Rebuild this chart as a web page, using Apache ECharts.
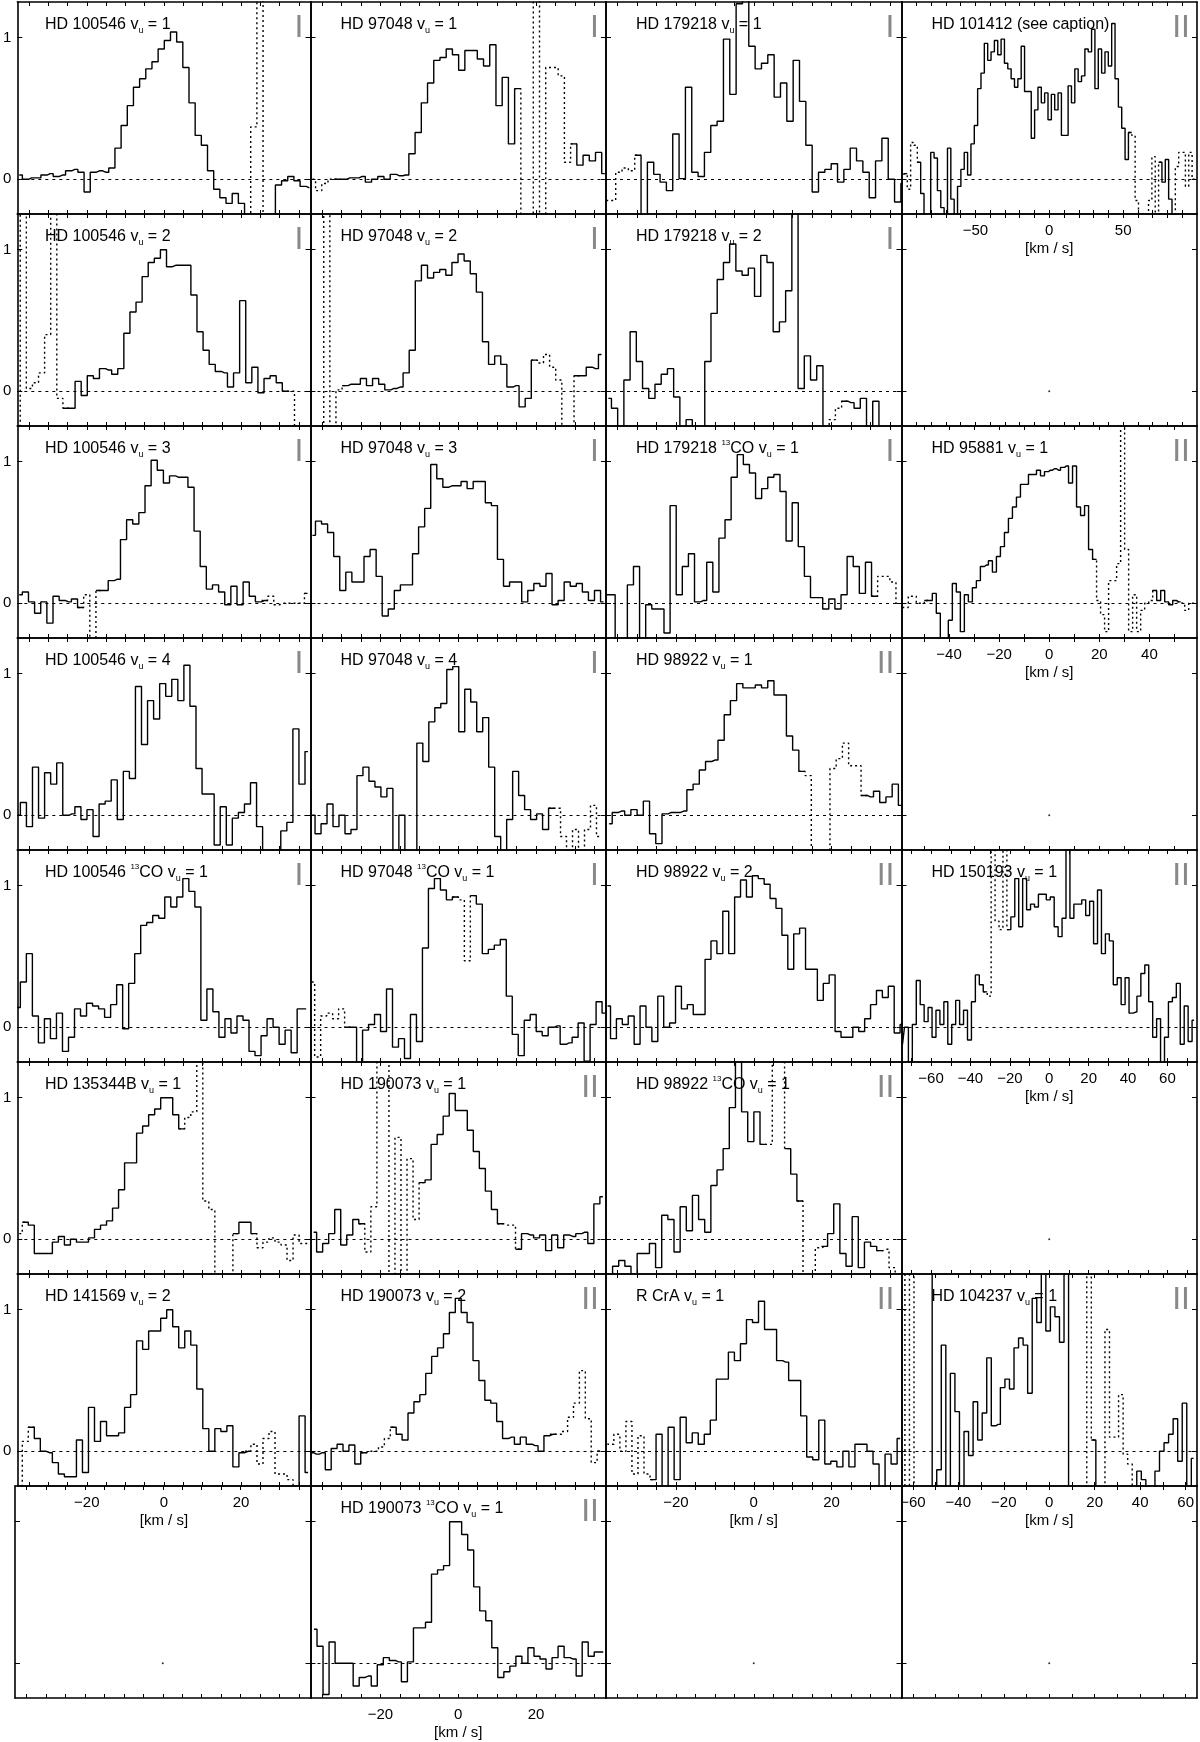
<!DOCTYPE html>
<html>
<head>
<meta charset="utf-8">
<script src="https://cdn.jsdelivr.net/npm/echarts@6/dist/echarts.min.js"></script>
<style>
html, body { margin: 0; padding: 0; background: #fff; }
#chart { width: 1200px; height: 1742px; }
</style>
</head>
<body>
<div id="chart"></div>
<script>
// normalised line profiles, one value per velocity bin
const hd100546_v1 = [0.03,0.0,0.01,0.01,0.03,0.04,0.02,0.03,0.06,0.07,0.05,-0.09,0.05,0.06,0.05,0.08,0.22,0.38,0.52,0.65,0.71,0.78,0.83,0.92,0.98,1.04,0.97,0.79,0.54,0.31,0.24,0.06,-0.07,-0.13,-0.17,-0.10,-0.17,-0.3,0.37,1.3,-0.3,-0.3,-0.04,-0.01,0.02,-0.01,-0.05,-0.06];
const hd97048_v1 = [0.0,-0.08,-0.03,0.0,0.0,0.0,0.01,0.01,0.02,-0.02,0.0,0.02,0.0,0.035,0.025,0.03,0.18,0.33,0.54,0.68,0.84,0.86,0.92,0.88,0.77,0.91,0.91,0.85,0.80,0.95,0.52,0.72,0.25,0.64,-0.3,-0.3,1.3,-0.3,0.79,0.79,0.73,0.12,0.25,0.10,0.17,0.13,0.19,0.04];
const hd179218_v1 = [-0.15,-0.15,0.05,0.08,0.06,0.17,-0.3,0.12,0.035,-0.02,-0.08,0.32,0.005,0.65,0.05,0.02,0.19,0.38,0.41,0.99,0.60,1.24,1.3,0.94,0.78,0.82,0.88,0.58,0.68,0.41,0.84,0.55,0.24,-0.09,0.05,0.07,0.11,-0.02,0.07,0.22,0.13,0.05,-0.13,0.13,0.29,0.0,-0.16,-0.03];
const hd101412 = [0.035,0.04,-0.07,0.26,0.24,0.12,-0.1,-0.3,-0.3,0.19,0.15,-0.08,-0.2,-0.3,0.22,-0.14,-0.3,-0.05,0.07,0.19,0.03,0.25,0.38,0.64,0.75,0.96,0.84,0.90,0.98,0.88,0.99,0.82,0.78,0.71,0.65,0.71,0.94,0.62,0.62,0.29,0.49,0.65,0.54,0.61,0.42,0.60,0.49,0.61,0.31,0.31,0.66,0.54,0.78,0.69,0.73,0.92,0.90,1.06,0.64,0.92,0.75,0.90,0.80,1.10,0.71,0.51,0.36,0.14,0.33,0.31,-0.15,-0.3,-0.3,-0.3,-0.15,0.16,-0.3,0.12,-0.02,0.14,-0.14,-0.3,0.09,0.19,0.19,-0.05,0.19,0.0,0.0];
const hd100546_v2 = [-0.3,1.3,0.02,0.06,0.13,0.40,1.3,-0.05,-0.12,-0.12,0.07,-0.03,0.11,0.09,0.16,0.15,0.12,0.16,0.41,0.56,0.63,0.81,0.91,0.94,1.00,0.88,0.89,0.89,0.89,0.68,0.42,0.29,0.19,0.14,0.13,0.03,0.13,0.64,0.06,0.17,-0.01,0.09,0.11,0.06,0.0,0.0,-0.3,-0.3,-0.3];
const hd97048_v2 = [-0.3,-0.3,1.3,-0.3,0.01,0.04,0.05,0.05,0.09,0.04,0.09,0.05,0.01,0.02,0.03,0.13,0.29,0.78,0.89,0.80,0.84,0.86,0.82,0.91,0.97,0.92,0.83,0.70,0.35,0.19,0.25,0.19,0.03,0.04,-0.11,-0.05,0.22,0.20,0.26,0.17,0.08,-0.3,-0.3,0.11,0.11,0.17,0.16,0.26];
const hd179218_v2 = [-0.05,-0.12,-0.3,0.08,0.42,0.21,0.02,-0.05,0.05,0.12,0.16,-0.04,-0.3,-0.2,-0.3,-0.3,0.21,0.55,0.79,0.91,1.04,0.85,0.82,0.87,0.67,0.96,0.91,0.42,0.49,0.71,1.3,0.02,0.25,0.08,0.18,-0.3,-0.2,-0.12,-0.07,-0.08,-0.12,-0.05,-0.3,-0.07,-0.3,-0.3,-0.3,-0.3];
const hd100546_v3 = [0.06,0.08,0.01,-0.07,0.01,-0.14,0.05,0.02,0.01,0.03,-0.03,0.06,-0.3,0.09,0.09,0.16,0.17,0.45,0.59,0.56,0.64,0.83,1.01,0.94,0.85,0.90,0.89,0.89,0.82,0.51,0.26,0.10,0.13,0.08,-0.01,0.12,-0.01,0.15,0.05,0.01,0.02,0.05,-0.01,0.0,0.0,0.0,0.0,0.07];
const hd97048_v3 = [0.48,0.58,0.56,0.50,0.33,0.09,0.22,0.15,0.15,0.33,0.38,0.19,-0.09,-0.04,0.09,0.13,0.13,0.35,0.54,0.67,0.98,0.88,0.82,0.83,0.83,0.86,0.81,0.86,0.86,0.71,0.69,0.31,0.12,0.15,0.15,0.01,0.09,0.14,0.12,0.21,-0.01,0.02,0.15,0.12,0.14,0.08,0.02,0.09,0.01];
const hd179218_13co = [0.06,0.06,-0.3,-0.3,0.13,0.26,-0.3,-0.01,-0.04,-0.04,-0.21,0.69,0.06,0.26,0.35,0.01,0.02,0.29,0.08,0.46,0.59,0.89,1.05,0.98,0.92,0.74,0.81,0.89,0.91,0.79,0.44,0.71,0.40,0.19,0.04,0.04,-0.04,0.03,-0.04,0.06,0.33,0.26,0.07,0.29,0.05,0.19,0.19,0.15,0.0];
const hd95881 = [-0.03,-0.03,0.05,0.05,0.0,0.0,0.02,0.02,0.07,-0.07,-0.3,-0.3,-0.12,0.14,0.08,-0.2,0.06,0.01,0.11,0.16,0.26,0.27,0.30,0.22,0.33,0.40,0.50,0.60,0.68,0.75,0.84,0.84,0.91,0.91,0.94,0.90,0.93,0.94,0.95,0.94,0.96,0.97,0.85,0.97,0.68,0.62,0.69,0.38,0.31,0.02,-0.08,-0.2,0.16,0.16,0.28,1.3,0.38,-0.2,0.06,-0.2,-0.05,0.0,0.02,0.09,0.02,0.09,0.01,-0.01,0.02,0.01,0.0,-0.05,0.0,0.0];
const hd100546_v4 = [0.0,0.09,-0.08,0.34,-0.02,0.30,0.22,0.37,0.0,0.01,0.06,-0.03,0.04,-0.15,0.08,0.10,0.25,-0.03,0.31,0.26,0.91,0.50,0.81,0.68,0.93,0.84,0.96,0.81,1.06,0.77,0.33,0.15,0.15,-0.21,0.06,-0.21,-0.02,0.02,0.08,0.23,-0.08,-0.3,-0.3,-0.3,-0.11,-0.05,0.61,0.22,0.45];
const hd97048_v4 = [0.0,-0.13,-0.06,0.08,-0.08,0.0,-0.13,-0.10,0.28,0.34,0.24,0.20,0.13,0.19,-0.3,0.0,-0.3,-0.3,0.51,0.38,0.66,0.76,0.79,1.03,1.05,0.59,0.89,0.80,0.59,0.69,0.34,-0.15,-0.3,-0.03,0.31,0.14,0.04,-0.03,0.01,-0.10,0.05,0.05,-0.15,-0.25,-0.1,-0.25,-0.1,0.07,-0.15];
const hd98922_v1 = [-0.06,0.02,0.03,0.0,0.04,0.0,0.10,-0.13,-0.20,0.01,0.02,0.02,0.03,0.18,0.22,0.32,0.38,0.39,0.53,0.71,0.81,0.93,0.90,0.90,0.92,0.90,0.95,0.85,0.85,0.56,0.46,0.31,0.28,-0.3,-0.3,-0.3,0.33,0.40,0.51,0.35,0.35,0.14,0.13,0.17,0.09,0.13,0.22,0.07];
const hd100546_13co = [0.14,0.32,0.52,0.08,-0.11,0.06,-0.08,0.10,-0.17,-0.07,0.13,0.08,0.17,0.15,0.13,0.07,0.16,0.30,-0.01,0.31,0.52,0.72,0.74,0.79,0.77,0.92,0.85,0.92,1.05,0.96,0.85,0.05,0.27,0.11,-0.07,0.06,-0.04,0.08,0.05,-0.17,-0.20,-0.06,0.06,0.0,-0.12,-0.02,-0.18,0.13,0.13];
const hd97048_13co = [0.32,-0.21,0.08,0.10,0.06,0.13,0.0,0.0,-0.3,-0.02,0.02,0.09,-0.03,0.27,-0.14,-0.08,-0.22,0.09,-0.10,0.56,0.98,1.05,0.97,0.90,0.92,0.90,0.47,0.93,0.87,0.52,0.55,0.58,0.62,0.22,-0.05,-0.20,0.05,0.09,-0.03,-0.06,0.0,0.01,-0.12,-0.11,-0.07,0.03,-0.24,0.02,0.18,0.10];
const hd98922_v2 = [0.15,-0.08,0.06,0.02,0.08,-0.12,0.15,0.0,-0.10,0.22,0.0,0.03,0.29,0.13,0.16,0.09,0.09,0.48,0.61,0.52,0.82,0.52,0.92,1.04,0.92,1.07,1.05,1.01,0.91,0.84,0.65,0.41,0.66,0.70,0.41,0.41,0.19,0.31,0.37,-0.03,-0.07,-0.07,0.0,-0.03,0.06,0.16,0.26,0.21,0.29,-0.04,0.02,0.02];
const hd150193 = [-0.12,0.0,-0.3,0.02,0.33,0.16,0.04,0.14,-0.07,0.12,0.02,0.18,-0.12,0.02,0.19,0.02,0.12,-0.09,0.18,0.37,0.30,0.25,0.22,1.3,0.75,0.69,1.3,0.69,0.78,1.05,0.71,1.05,0.83,0.87,0.85,0.94,0.94,0.90,0.92,0.71,0.64,0.77,1.3,0.77,0.87,0.87,0.90,0.79,0.89,0.59,0.97,0.52,0.66,0.61,0.30,0.35,0.16,0.35,0.10,0.11,0.22,0.38,0.44,0.18,-0.07,0.06,-0.3,-0.07,0.18,0.21,0.31,-0.12,0.15,-0.10,0.05];
const hd135344b_v1 = [0.04,0.12,0.10,-0.10,-0.10,-0.10,-0.02,0.02,-0.04,0.0,-0.02,-0.02,0.01,0.07,0.10,0.13,0.22,0.35,0.54,0.54,0.75,0.80,0.88,0.92,1.0,1.0,0.88,0.78,0.86,0.9,1.3,0.27,0.21,-0.3,-0.3,-0.3,0.04,0.12,0.12,0.04,-0.06,-0.02,0.01,-0.02,-0.04,-0.15,0.03,-0.03,-0.03];
const hd190073_v1 = [0.05,-0.09,-0.03,0.04,0.21,-0.04,0.03,0.14,0.11,-0.09,0.23,1.3,1.3,-0.3,0.72,-0.3,0.57,0.14,0.40,0.42,0.67,0.74,0.87,1.03,0.91,0.91,0.77,0.62,0.50,0.34,0.21,0.11,0.10,0.10,-0.07,0.04,0.03,0.01,0.03,-0.08,0.03,-0.06,0.03,0.02,0.04,0.05,-0.03,0.25,0.3];
const hd98922_13co = [-0.3,-0.19,-0.15,-0.19,-0.3,-0.10,-0.10,-0.03,-0.20,0.17,0.14,-0.09,0.23,0.06,0.31,0.14,0.05,0.38,0.49,0.64,0.93,1.3,0.90,0.69,0.90,0.67,0.67,1.3,1.3,0.64,0.46,0.27,-0.3,-0.3,-0.06,-0.05,0.04,0.25,-0.10,-0.19,0.16,-0.20,-0.02,-0.05,-0.08,-0.07,-0.2,-0.3];
const hd141569_v2 = [-0.3,0.07,0.17,0.09,0.0,-0.01,-0.08,-0.16,-0.18,-0.18,0.08,-0.15,0.31,0.07,0.21,0.11,0.11,0.13,0.31,0.40,0.78,0.72,0.85,0.85,0.94,1.0,0.88,0.73,0.85,0.75,0.44,0.16,0.0,0.16,0.14,0.18,-0.11,-0.01,0.0,0.05,-0.09,0.09,0.14,-0.16,-0.16,-0.2,-0.3,0.25,-0.15];
const hd190073_v2 = [-0.01,-0.02,-0.01,-0.13,0.02,0.05,0.0,0.045,-0.09,-0.01,0.0,0.0,0.03,0.09,0.17,0.12,0.08,0.27,0.35,0.40,0.55,0.67,0.73,0.83,0.98,1.08,0.98,0.91,0.64,0.50,0.36,0.34,0.21,0.09,0.10,0.05,0.10,0.05,0.04,0.0,0.11,0.12,0.12,0.14,0.24,0.34,0.57,0.23,-0.08,0.0];
const rcra_v1 = [0.07,0.05,0.12,0.0,0.21,-0.16,0.11,-0.16,-0.2,0.12,-0.3,0.17,-0.2,0.24,0.06,0.13,0.05,0.12,0.22,0.51,0.51,0.70,0.64,0.76,0.93,0.91,1.06,0.86,0.86,0.64,0.63,0.50,0.50,0.25,-0.04,-0.06,0.22,-0.09,-0.07,-0.11,0.0,-0.11,0.05,0.05,0.0,-0.09,-0.3,-0.02,-0.09,0.09];
const hd104237 = [-0.3,1.3,-0.3,1.3,1.3,1.3,1.3,-0.3,-0.13,0.75,-0.3,0.55,0.28,-0.3,0.14,-0.03,0.35,0.08,0.27,0.66,0.18,0.19,0.45,0.51,0.44,0.73,0.80,0.75,0.41,1.08,0.91,1.3,0.85,1.02,0.95,0.77,1.3,-0.3,-0.3,-0.3,-0.3,1.3,0.08,-0.3,-0.3,0.86,0.10,0.10,0.40,-0.02,-0.09,-0.3,-0.14,-0.2,-0.3,-0.3,-0.14,0.0,0.06,0.12,0.23,-0.07,0.34,-0.3,-0.05];
const hd190073_13co = [0.24,0.12,-0.22,0.15,0.0,0.0,0.0,-0.16,-0.10,-0.09,-0.16,-0.01,0.04,0.02,0.01,-0.13,0.01,0.25,0.25,0.29,0.63,0.66,0.69,1.0,1.0,0.91,0.80,0.54,0.37,0.30,0.11,-0.10,-0.06,-0.02,0.05,0.0,0.11,0.05,0.03,-0.04,0.04,0.12,0.04,0.03,-0.09,0.15,0.05,0.08,0.08];

// velocity axes: half range, tick positions, labelled ticks
const ticksNarrow = [-35,-30,-25,-20,-15,-10,-5,0,5,10,15,20,25,30,35];
const labelsNarrow = [-20,0,20];
const ticks100 = [-90,-80,-70,-60,-50,-40,-30,-20,-10,0,10,20,30,40,50,60,70,80,90];
const labels100 = [-50,0,50];
const ticks59 = [-50,-40,-30,-20,-10,0,10,20,30,40,50];
const labels59 = [-40,-20,0,20,40];
const ticks75 = [-70,-60,-50,-40,-30,-20,-10,0,10,20,30,40,50,60,70];
const labels75 = [-60,-40,-20,0,20,40,60];
const ticks65 = [-60,-50,-40,-30,-20,-10,0,10,20,30,40,50,60];
const labels65 = [-60,-40,-20,0,20,40,60];
const yTicks = [0, 1];

const axisSpecs = {
  narrow: { lim: 38, ticks: ticksNarrow, labels: labelsNarrow },
  w100: { lim: 100, ticks: ticks100, labels: labels100 },
  w59: { lim: 59, ticks: ticks59, labels: labels59 },
  w75: { lim: 75, ticks: ticks75, labels: labels75 },
  w65: { lim: 65, ticks: ticks65, labels: labels65 }
};

// binStart = centre of first bin [km/s], binWidth [km/s], dotted = bin index ranges
const panels = [
  { r: 0, c: 0, star: 'HD 100546', vu: 1, cls: 'I', y: hd100546_v1, binStart: -37.5, binWidth: 1.6, dotted: [[38, 40]] },
  { r: 0, c: 1, star: 'HD 97048', vu: 1, cls: 'I', y: hd97048_v1, binStart: -37.5, binWidth: 1.6, dotted: [[0, 3], [34, 41]] },
  { r: 0, c: 2, star: 'HD 179218', vu: 1, cls: 'I', y: hd179218_v1, binStart: -37.95, binWidth: 1.63, dotted: [[0, 4]] },
  { r: 0, c: 3, star: 'HD 101412', note: '(see caption)', cls: 'II', y: hd101412, binStart: -99.5, binWidth: 2.268, dotted: [[2, 4], [69, 76], [82, 88]], axis: 'w100' },
  { r: 1, c: 0, star: 'HD 100546', vu: 2, cls: 'I', y: hd100546_v2, binStart: -38.04, binWidth: 1.58, dotted: [[1, 7], [45, 48]] },
  { r: 1, c: 1, star: 'HD 97048', vu: 2, cls: 'I', y: hd97048_v2, binStart: -36.95, binWidth: 1.57, dotted: [[0, 4], [37, 42]] },
  { r: 1, c: 2, star: 'HD 179218', vu: 2, cls: 'I', y: hd179218_v2, binStart: -37.4, binWidth: 1.6, dotted: [[36, 37]] },
  { r: 2, c: 0, star: 'HD 100546', vu: 3, cls: 'I', y: hd100546_v3, binStart: -37.5, binWidth: 1.59, dotted: [[11, 12], [41, 46]] },
  { r: 2, c: 1, star: 'HD 97048', vu: 3, cls: 'I', y: hd97048_v3, binStart: -37.5, binWidth: 1.56, dotted: [] },
  { r: 2, c: 2, star: 'HD 179218', iso: true, vu: 1, cls: 'I', y: hd179218_13co, binStart: -38.0, binWidth: 1.57, dotted: [[45, 48]] },
  { r: 2, c: 3, star: 'HD 95881', vu: 1, cls: 'II', y: hd95881, binStart: -58.7, binWidth: 1.6, dotted: [[0, 5], [49, 62], [70, 73]], axis: 'w59' },
  { r: 3, c: 0, star: 'HD 100546', vu: 4, cls: 'I', y: hd100546_v4, binStart: -38.0, binWidth: 1.57, dotted: [] },
  { r: 3, c: 1, star: 'HD 97048', vu: 4, cls: 'I', y: hd97048_v4, binStart: -37.6, binWidth: 1.54, dotted: [[41, 48]] },
  { r: 3, c: 2, star: 'HD 98922', vu: 1, cls: 'II', y: hd98922_v1, binStart: -37.2, binWidth: 1.6, dotted: [[32, 40]] },
  { r: 4, c: 0, star: 'HD 100546', iso: true, vu: 1, cls: 'I', y: hd100546_13co, binStart: -38.0, binWidth: 1.56, dotted: [] },
  { r: 4, c: 1, star: 'HD 97048', iso: true, vu: 1, cls: 'I', y: hd97048_13co, binStart: -37.7, binWidth: 1.54, dotted: [[0, 5], [25, 26]] },
  { r: 4, c: 2, star: 'HD 98922', vu: 2, cls: 'II', y: hd98922_v2, binStart: -37.6, binWidth: 1.52, dotted: [] },
  { r: 4, c: 3, star: 'HD 150193', vu: 1, cls: 'II', y: hd150193, binStart: -74.5, binWidth: 2.0, dotted: [[22, 22], [24, 26]], axis: 'w75' },
  { r: 5, c: 0, star: 'HD 135344B', vu: 1, cls: '', y: hd135344b_v1, binStart: -37.5, binWidth: 1.56, dotted: [[0, 0], [28, 35], [40, 48]] },
  { r: 5, c: 1, star: 'HD 190073', vu: 1, cls: 'II', y: hd190073_v1, binStart: -37.2, binWidth: 1.55, dotted: [[9, 17], [32, 33]] },
  { r: 5, c: 2, star: 'HD 98922', iso: true, vu: 1, cls: 'II', y: hd98922_13co, binStart: -37.1, binWidth: 1.58, dotted: [[26, 28], [32, 34], [45, 47]] },
  { r: 6, c: 0, star: 'HD 141569', vu: 2, cls: '', y: hd141569_v2, binStart: -37.5, binWidth: 1.56, dotted: [[0, 1], [39, 45]] },
  { r: 6, c: 1, star: 'HD 190073', vu: 2, cls: 'II', y: hd190073_v2, binStart: -38.0, binWidth: 1.52, dotted: [[10, 13], [42, 48]] },
  { r: 6, c: 2, star: 'R CrA', vu: 1, cls: 'II', y: rcra_v1, binStart: -38.3, binWidth: 1.55, dotted: [[0, 7]] },
  { r: 6, c: 3, star: 'HD 104237', vu: 1, cls: 'II', y: hd104237, binStart: -64.5, binWidth: 2.0, dotted: [[0, 3], [41, 41], [45, 50]], axis: 'w65' },
  { r: 7, c: 1, star: 'HD 190073', iso: true, vu: 1, cls: 'II', y: hd190073_13co, binStart: -37.1, binWidth: 1.55, dotted: [] }
];

// empty cells keep the axis of the panel above
const emptyCells = [
  { r: 1, c: 3, axis: 'w100' },
  { r: 3, c: 3, axis: 'w59' },
  { r: 5, c: 3, axis: 'w75' },
  { r: 7, c: 0, axis: 'narrow' },
  { r: 7, c: 2, axis: 'narrow' },
  { r: 7, c: 3, axis: 'w65' }
];
// cells whose bottom axis carries velocity labels
const labelled = ['0,3', '2,3', '4,3', '6,0', '6,2', '6,3', '7,1'];

const FONT = '"Liberation Sans", Arial, Helvetica, sans-serif';
const COL_LEFT = [15, 310.5, 606, 901.5];
const COL_W = 295.5;
const ROW_TOP = 2, ROW_H = 212;
const Y_MIN = -0.245, Y_MAX = 1.252;

const fmtV = v => (v < 0 ? '\u2212' + Math.abs(v) : String(v));

const grids = [], xAxes = [], yAxes = [], series = [], titles = [];

const zeroLine = {
  silent: true, symbol: 'none', animation: false,
  label: { show: false },
  lineStyle: { type: [3, 4], color: '#000', width: 1 },
  data: [{ yAxis: 0 }]
};

function addCell(r, c, axisKey) {
  const gi = grids.length;
  const spec = axisSpecs[axisKey];
  const showX = labelled.indexOf(r + ',' + c) >= 0;
  grids.push({ left: COL_LEFT[c], top: ROW_TOP + r * ROW_H, width: COL_W, height: ROW_H });
  ['bottom', 'top'].forEach(pos => {
    const lab = showX && pos === 'bottom';
    xAxes.push({
      gridIndex: gi, type: 'value', position: pos, min: -spec.lim, max: spec.lim,
      axisLine: { show: true, onZero: false, lineStyle: { color: '#000', width: 1.6 } },
      axisTick: { show: true, inside: true, length: 4, customValues: spec.ticks, lineStyle: { color: '#000', width: 1 } },
      axisLabel: { show: lab, customValues: spec.labels, formatter: fmtV, fontFamily: FONT, fontSize: 15, color: '#000', margin: 9 },
      splitLine: { show: false },
      name: lab ? '[km / s]' : '', nameLocation: 'middle', nameGap: 27,
      nameTextStyle: { fontFamily: FONT, fontSize: 15, color: '#000' }
    });
  });
  ['left', 'right'].forEach(pos => {
    const lab = pos === 'left' && c === 0 && r < 7;
    yAxes.push({
      gridIndex: gi, type: 'value', position: pos, min: Y_MIN, max: Y_MAX,
      axisLine: { show: true, onZero: false, lineStyle: { color: '#000', width: 1.6 } },
      axisTick: { show: true, inside: true, length: 5, customValues: yTicks, lineStyle: { color: '#000', width: 1 } },
      axisLabel: { show: lab, customValues: yTicks, fontFamily: FONT, fontSize: 15, color: '#000', margin: 6 },
      splitLine: { show: false }
    });
  });
  return gi;
}

function titleText(p) {
  if (p.note) return '{a|' + p.star + ' ' + p.note + '}';
  const head = p.iso ? '{a|' + p.star + ' }{c|13}{a|CO v}' : '{a|' + p.star + ' v}';
  return head + '{b|u}{a| = ' + p.vu + '}';
}

panels.forEach(p => {
  const gi = addCell(p.r, p.c, p.axis || 'narrow');
  const inDot = i => p.dotted.some(([a, b]) => i >= a && i <= b);
  const solid = [], dots = [];
  p.y.forEach((val, i) => {
    const v = p.binStart + i * p.binWidth;
    solid.push([v, inDot(i) ? '-' : val]);
    dots.push([v, (inDot(i) || inDot(i - 1) || inDot(i + 1)) ? val : '-']);
  });
  series.push({
    type: 'line', xAxisIndex: 2 * gi, yAxisIndex: 2 * gi, data: solid, step: 'middle',
    symbol: 'none', silent: true, clip: true,
    lineStyle: { color: '#000', width: 1.4 }, markLine: zeroLine
  });
  if (p.dotted.length) {
    series.push({
      type: 'line', xAxisIndex: 2 * gi, yAxisIndex: 2 * gi, data: dots, step: 'middle',
      symbol: 'none', silent: true, clip: true,
      lineStyle: { color: '#000', width: 1.4, type: [2, 3] }
    });
  }
  const top = ROW_TOP + p.r * ROW_H;
  titles.push({
    text: titleText(p), left: COL_LEFT[p.c] + 30, top: top + 13, padding: 0,
    textStyle: {
      fontFamily: FONT, fontSize: 16, fontWeight: 'normal', color: '#000',
      rich: {
        a: { fontFamily: FONT, fontSize: 16, lineHeight: 20, color: '#000', verticalAlign: 'middle' },
        b: { fontFamily: FONT, fontSize: 9, lineHeight: 9, color: '#000', verticalAlign: 'bottom' },
        c: { fontFamily: FONT, fontSize: 8, lineHeight: 17, color: '#000', verticalAlign: 'top' }
      }
    }
  });
  if (p.cls) {
    titles.push({
      text: p.cls, right: 1200 - (COL_LEFT[p.c] + COL_W - 7), top: top + 10, padding: 0,
      textStyle: { fontFamily: FONT, fontSize: 32, lineHeight: 32, fontWeight: 'normal', color: '#888' }
    });
  }
});

emptyCells.forEach(e => {
  const gi = addCell(e.r, e.c, e.axis);
  series.push({
    type: 'scatter', xAxisIndex: 2 * gi, yAxisIndex: 2 * gi, data: [[0, 0]],
    symbolSize: 2, silent: true, itemStyle: { color: '#000' }
  });
});

const chart = echarts.init(document.getElementById('chart'), null, { renderer: 'canvas' });
chart.setOption({
  backgroundColor: '#ffffff',
  animation: false,
  title: titles,
  grid: grids,
  xAxis: xAxes,
  yAxis: yAxes,
  series: series
});
</script>
</body>
</html>
